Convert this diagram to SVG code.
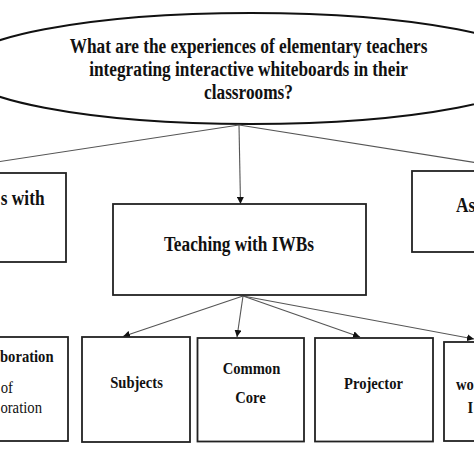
<svg xmlns="http://www.w3.org/2000/svg" width="474" height="474" viewBox="0 0 474 474">
<defs>
<marker id="ah" viewBox="0 0 10 10" refX="10" refY="5" markerWidth="7" markerHeight="7" markerUnits="userSpaceOnUse" orient="auto">
<path d="M0,0 L10,5 L0,10 Z" fill="#111"/>
</marker>
<style>
.box{fill:#fff;stroke:#222;stroke-width:1.8}
.ell{fill:#fff;stroke:#111;stroke-width:2}
.con{fill:none;stroke:#555;stroke-width:1.1}
.arr{marker-end:url(#ah)}
text{font-family:"Liberation Serif","Times New Roman",serif;fill:#111}
.t1{font-size:17.3px;font-weight:bold}
.t2{font-size:14.6px;font-weight:bold}
.t3{font-size:14.7px}
</style>
</defs>
<rect width="474" height="474" fill="#fff"/>
<g id="question">
<ellipse class="ell" cx="251" cy="68.5" rx="292" ry="55.5"/>
<text class="t1" text-anchor="middle" transform="translate(248.5 53) scale(1 1.15)">What are the experiences of elementary teachers</text>
<text class="t1" text-anchor="middle" transform="translate(248.5 76) scale(1 1.15)">integrating interactive whiteboards in their</text>
<text class="t1" text-anchor="middle" transform="translate(248.5 99) scale(1 1.15)">classrooms?</text>
</g>
<g id="connectors">
<line class="con" x1="239" y1="125" x2="-10" y2="163"/>
<line class="con arr" x1="239" y1="125" x2="240.5" y2="204"/>
<line class="con" x1="239" y1="125" x2="484" y2="164"/>
<line class="con arr" x1="243" y1="296" x2="123" y2="336.5"/>
<line class="con arr" x1="243" y1="296" x2="237" y2="337"/>
<line class="con arr" x1="243" y1="296" x2="360" y2="337"/>
<line class="con arr" x1="243" y1="296" x2="474" y2="339"/>
</g>
<g id="left-node">
<rect class="box" x="-10" y="173" width="76" height="89"/>
<text class="t1" text-anchor="end" transform="translate(44.5 205) scale(1 1.15)">s with</text>
</g>
<g id="teaching">
<rect class="box" x="113" y="204" width="253" height="91"/>
<text class="t1" text-anchor="middle" transform="translate(239 250.5) scale(1 1.15)">Teaching with IWBs</text>
</g>
<g id="right-node">
<rect class="box" x="412" y="171" width="70" height="81"/>
<text class="t1" transform="translate(456 212) scale(1 1.15)">As</text>
</g>
<g id="collaboration">
<rect class="box" x="-10" y="337" width="78" height="104"/>
<text class="t2" text-anchor="end" transform="translate(53.5 362) scale(1 1.13)">boration</text>
<text class="t3" text-anchor="end" transform="translate(13 393) scale(1 1.13)">of</text>
<text class="t3" text-anchor="end" transform="translate(42 413) scale(1 1.13)">oration</text>
</g>
<g id="subjects">
<rect class="box" x="82" y="337" width="108" height="105"/>
<text class="t2" text-anchor="middle" transform="translate(136.5 388) scale(1 1.13)">Subjects</text>
</g>
<g id="common-core">
<rect class="box" x="197.5" y="338" width="106.5" height="103.5"/>
<text class="t2" text-anchor="middle" transform="translate(251.5 374) scale(1 1.13)">Common</text>
<text class="t2" text-anchor="middle" transform="translate(250.5 403) scale(1 1.13)">Core</text>
</g>
<g id="projector">
<rect class="box" x="315" y="338" width="118" height="103.5"/>
<text class="t2" text-anchor="middle" transform="translate(373.5 389) scale(1 1.13)">Projector</text>
</g>
<g id="last-node">
<rect class="box" x="444" y="342" width="40" height="99"/>
<text class="t2" transform="translate(456 390) scale(1 1.13)">wo</text>
<text class="t2" transform="translate(467.5 413) scale(1 1.13)">I</text>
</g>
</svg>
